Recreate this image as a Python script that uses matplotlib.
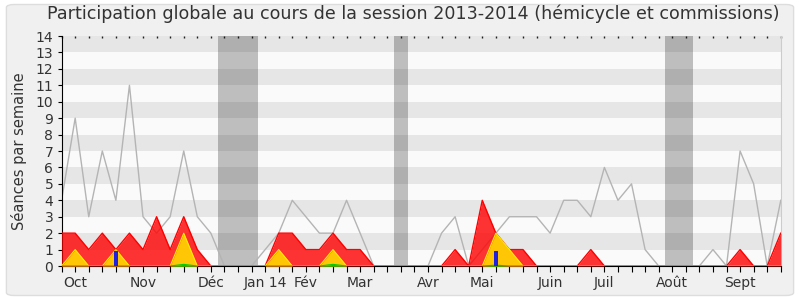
import numpy as np
import matplotlib
matplotlib.use('Agg')
import matplotlib.pyplot as plt
from matplotlib.patches import FancyBboxPatch

# weekly values, session 2013-2014 (54 weeks)
weeks = np.arange(54)
total_seances = [4, 9, 3, 7, 4, 11, 3, 2, 3, 7, 3, 2, 0, 0, 0, 1, 2, 4, 3, 2,
                 2, 4, 2, 0, 0, 0, 0, 0, 2, 3, 0, 1, 2, 3, 3, 3, 2, 4, 4, 3,
                 6, 4, 5, 1, 0, 0, 0, 0, 1, 0, 7, 5, 0, 4]
presences = [2, 2, 1, 2, 1, 2, 1, 3, 1, 3, 1, 0, 0, 0, 0, 0, 2, 2, 1, 1,
             2, 1, 1, 0, 0, 0, 0, 0, 0, 1, 0, 4, 2, 1, 1, 0, 0, 0, 0, 1,
             0, 0, 0, 0, 0, 0, 0, 0, 0, 0, 1, 0, 0, 2]
interventions = [0, 1, 0, 0, 1, 0, 0, 0, 0, 2, 0, 0, 0, 0, 0, 0, 1, 0, 0, 0,
                 1, 0, 0, 0, 0, 0, 0, 0, 0, 0, 0, 0, 2, 1, 0, 0, 0, 0, 0, 0,
                 0, 0, 0, 0, 0, 0, 0, 0, 0, 0, 0, 0, 0, 0]
mentions = [0] * 54
mentions[9] = 0.1
mentions[20] = 0.1
mentions[32] = 0.05
questions = [0] * 54
questions[4] = 0.9
questions[32] = 0.9

vacances = [(11.5, 14.5), (24.5, 25.5), (44.5, 46.5)]
mois_pos = [1, 6, 11, 15, 18, 22, 27, 31, 36, 40, 45, 50]
mois_lab = ['Oct', 'Nov', 'Déc', 'Jan 14', 'Fév', 'Mar', 'Avr', 'Mai',
            'Juin', 'Juil', 'Août', 'Sept']

plt.rcParams['font.family'] = ['DejaVu Sans']

fig = plt.figure(figsize=(8, 3), dpi=100, facecolor='white')
fig.patches.append(FancyBboxPatch((0.008, 0.015), 0.984, 0.97,
                                  boxstyle='round,pad=0,rounding_size=0.01',
                                  transform=fig.transFigure, facecolor='#f0f0f0',
                                  edgecolor='#dddddd', linewidth=1, zorder=-5))

ax = fig.add_axes([0.077, 0.1133, 0.899, 0.7667])
ax.set_facecolor('#fafafa')

for k in range(1, 14, 2):
    ax.axhspan(k, k + 1, color='#e6e6e6', lw=0, zorder=0)
for a, b in vacances:
    ax.axvspan(a, b, color='black', alpha=0.24, lw=0, zorder=1)

ax.plot(weeks, total_seances, color='#b4b4b4', lw=1, zorder=2)
ax.fill_between(weeks, presences, color='#ff0000', alpha=0.8, lw=0, zorder=3)
ax.plot(weeks, presences, color='#ff0000', lw=1, zorder=3)
ax.fill_between(weeks, interventions, color='#ffd700', alpha=0.9, lw=0, zorder=4)
ax.plot(weeks, interventions, color='#ffee00', lw=0.8, zorder=4)
ax.fill_between(weeks, mentions, color='#00cc00', lw=0, zorder=5)
ax.plot(weeks, mentions, color='#00cc00', lw=0.8, zorder=5)
ax.bar(weeks, questions, width=0.3, color='#2222dd', zorder=6)

ax.set_xlim(0, 53)
ax.set_ylim(0, 14)
ax.set_yticks(range(15))
ax.tick_params(axis='y', direction='out', length=3, labelsize=10, colors='#333333', pad=3)
ax.set_xticks(weeks)
labels = [''] * 54
for p, l in zip(mois_pos, mois_lab):
    labels[p] = l
ax.set_xticklabels(labels)
ax.tick_params(axis='x', direction='out', length=4, labelsize=10, colors='#333333', pad=3)
ax.tick_params(axis='both', color='black')

# small dots along the top edge
top = ax.secondary_xaxis('top')
top.set_xticks(weeks)
top.tick_params(direction='in', length=1.5, width=1, color='#222222', labeltop=False)
top.spines['top'].set_visible(False)

ax.spines['top'].set_visible(False)
ax.spines['right'].set_color('#cccccc')
ax.spines['left'].set_color('black')
ax.spines['bottom'].set_color('black')

ax.set_ylabel('Séances par semaine', fontsize=10.5, color='#333333', labelpad=6)
fig.suptitle('Participation globale au cours de la session 2013-2014 (hémicycle et commissions)',
             fontsize=12.6, color='#333333', x=0.516, y=0.985)

fig.savefig('out.png', dpi=100, facecolor=fig.get_facecolor())
